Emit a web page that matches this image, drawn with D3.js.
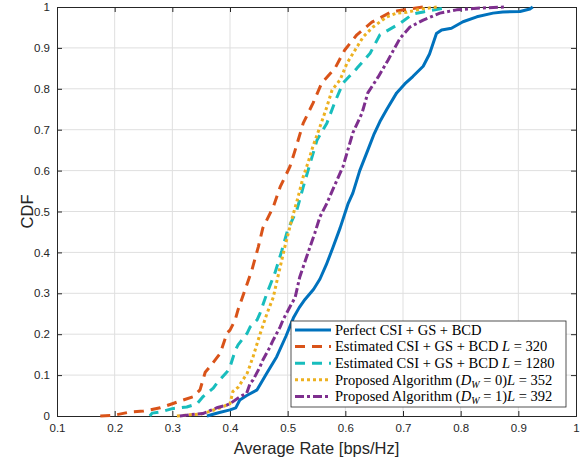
<!DOCTYPE html>
<html>
<head>
<meta charset="utf-8">
<script src="https://cdn.jsdelivr.net/npm/d3@7"></script>
<style>
  body { margin: 0; background: #fff; }
  svg { display: block; }
</style>
</head>
<body>
<div id="chart"></div>
<script>
// ---- data (x = average rate, y = CDF) ----
var perfectCSI = [[0.36,0],[0.38,0.008],[0.40,0.015],[0.41,0.02],[0.417,0.039],[0.429,0.05],[0.447,0.064],[0.464,0.105],[0.481,0.145],[0.497,0.195],[0.51,0.24],[0.52,0.265],[0.53,0.285],[0.545,0.31],[0.556,0.335],[0.567,0.37],[0.578,0.41],[0.591,0.46],[0.605,0.52],[0.613,0.545],[0.625,0.6],[0.639,0.65],[0.65,0.69],[0.66,0.72],[0.672,0.75],[0.689,0.79],[0.703,0.812],[0.717,0.83],[0.735,0.855],[0.746,0.885],[0.752,0.91],[0.758,0.935],[0.767,0.944],[0.784,0.948],[0.804,0.964],[0.828,0.976],[0.856,0.985],[0.873,0.988],[0.903,0.989],[0.92,0.995],[0.925,1.0]];

var estL320 = [[0.175,0],[0.2,0.002],[0.227,0.01],[0.25,0.012],[0.279,0.02],[0.3,0.03],[0.31,0.035],[0.336,0.047],[0.348,0.064],[0.357,0.107],[0.365,0.12],[0.377,0.142],[0.383,0.153],[0.395,0.203],[0.40,0.21],[0.409,0.235],[0.414,0.26],[0.424,0.30],[0.438,0.357],[0.449,0.413],[0.457,0.46],[0.475,0.511],[0.487,0.56],[0.504,0.61],[0.513,0.65],[0.527,0.716],[0.544,0.765],[0.559,0.814],[0.582,0.85],[0.599,0.895],[0.62,0.932],[0.646,0.963],[0.677,0.986],[0.689,0.99],[0.71,0.995],[0.735,1.0]];

var estL1280 = [[0.261,0],[0.265,0.007],[0.28,0.01],[0.3,0.018],[0.325,0.022],[0.343,0.03],[0.353,0.047],[0.371,0.068],[0.377,0.08],[0.395,0.108],[0.40,0.12],[0.409,0.16],[0.414,0.174],[0.43,0.203],[0.435,0.218],[0.447,0.235],[0.452,0.251],[0.464,0.30],[0.478,0.35],[0.49,0.405],[0.50,0.455],[0.516,0.504],[0.527,0.56],[0.539,0.618],[0.551,0.675],[0.568,0.716],[0.582,0.768],[0.596,0.814],[0.62,0.85],[0.643,0.887],[0.66,0.932],[0.695,0.96],[0.717,0.983],[0.735,0.988],[0.769,0.997],[0.775,1.0]];

var propDW0 = [[0.308,0],[0.33,0.003],[0.35,0.005],[0.362,0.01],[0.383,0.02],[0.40,0.03],[0.405,0.06],[0.414,0.07],[0.43,0.105],[0.44,0.145],[0.452,0.2],[0.464,0.25],[0.475,0.29],[0.483,0.34],[0.495,0.413],[0.507,0.48],[0.518,0.535],[0.527,0.585],[0.535,0.618],[0.544,0.66],[0.556,0.707],[0.568,0.756],[0.577,0.797],[0.591,0.822],[0.603,0.863],[0.617,0.895],[0.631,0.927],[0.648,0.951],[0.672,0.976],[0.689,0.985],[0.707,0.987],[0.73,0.995],[0.76,1.0]];

var propDW1 = [[0.313,0],[0.33,0.003],[0.353,0.006],[0.377,0.02],[0.395,0.027],[0.40,0.03],[0.417,0.047],[0.429,0.056],[0.435,0.08],[0.44,0.088],[0.452,0.12],[0.457,0.137],[0.469,0.168],[0.475,0.186],[0.487,0.218],[0.492,0.235],[0.504,0.267],[0.513,0.29],[0.521,0.34],[0.535,0.398],[0.547,0.447],[0.556,0.487],[0.568,0.52],[0.579,0.556],[0.596,0.61],[0.613,0.692],[0.629,0.741],[0.639,0.79],[0.657,0.829],[0.674,0.87],[0.695,0.924],[0.712,0.951],[0.735,0.968],[0.764,0.985],[0.793,0.993],[0.828,0.997],[0.875,1.0]];

var xTicks = [0.1,0.2,0.3,0.4,0.5,0.6,0.7,0.8,0.9,1];
var yTicks = [0,0.1,0.2,0.3,0.4,0.5,0.6,0.7,0.8,0.9,1];

// series styling
var series = [
  {data: perfectCSI, color: "#0072BD", dash: null},
  {data: estL320,    color: "#D95319", dash: "10,7"},
  {data: estL1280,   color: "#18BDBD", dash: "10,7"},
  {data: propDW0,    color: "#EDB120", dash: "3,3"},
  {data: propDW1,    color: "#7E2F8E", dash: "9,3,3,3"}
];

function init() {
  var w = 587, h = 464;
  var left = 57, right = 576, top = 7, bottom = 416;

  var svg = d3.select("#chart").append("svg")
      .attr("width", w).attr("height", h);

  var x = d3.scaleLinear().domain([0.1, 1]).range([left, right]);
  var y = d3.scaleLinear().domain([0, 1]).range([bottom, top]);

  // grid
  svg.append("g").selectAll("line").data(xTicks.slice(1, -1)).enter().append("line")
      .attr("x1", d => x(d)).attr("x2", d => x(d))
      .attr("y1", top).attr("y2", bottom)
      .attr("stroke", "#dfdfdf").attr("stroke-width", 1);
  svg.append("g").selectAll("line").data(yTicks.slice(1, -1)).enter().append("line")
      .attr("y1", d => y(d)).attr("y2", d => y(d))
      .attr("x1", left).attr("x2", right)
      .attr("stroke", "#dfdfdf").attr("stroke-width", 1);

  // axes (ticks inward, matlab look)
  var xAxis = d3.axisBottom(x).tickValues(xTicks).tickSize(-5).tickPadding(8)
      .tickFormat(d3.format("~g"));
  var yAxis = d3.axisLeft(y).tickValues(yTicks).tickSize(-5).tickPadding(7)
      .tickFormat(d3.format("~g"));
  var xTop = d3.axisTop(x).tickValues(xTicks).tickSize(-5).tickFormat("");
  var yRight = d3.axisRight(y).tickValues(yTicks).tickSize(-5).tickFormat("");

  [ [xAxis, "translate(0," + bottom + ")"],
    [yAxis, "translate(" + left + ",0)"],
    [xTop, "translate(0," + top + ")"],
    [yRight, "translate(" + right + ",0)"] ].forEach(function(a) {
    var g = svg.append("g").attr("transform", a[1]).call(a[0]);
    g.select(".domain").attr("stroke", "#262626").attr("stroke-width", 1);
    g.selectAll(".tick line").attr("stroke", "#262626");
    g.selectAll("text").attr("fill", "#262626")
      .style("font-family", "'Liberation Sans', Arial, sans-serif")
      .style("font-size", "11.5px");
  });

  // curves
  var line = d3.line().x(d => x(d[0])).y(d => y(d[1]));
  series.forEach(function(s) {
    svg.append("path")
      .datum(s.data)
      .attr("d", line)
      .attr("fill", "none")
      .attr("stroke", s.color)
      .attr("stroke-width", 3)
      .attr("stroke-linejoin", "round")
      .attr("stroke-dasharray", s.dash);
  });

  // axis labels
  svg.append("text")
    .attr("x", (left + right) / 2).attr("y", 454)
    .attr("text-anchor", "middle")
    .attr("fill", "#262626")
    .style("font-family", "'Liberation Sans', Arial, sans-serif")
    .style("font-size", "16.5px")
    .text("Average Rate [bps/Hz]");
  svg.append("text")
    .attr("transform", "translate(33," + (top + bottom) / 2 + ")rotate(-90)")
    .attr("text-anchor", "middle")
    .attr("fill", "#262626")
    .style("font-family", "'Liberation Sans', Arial, sans-serif")
    .style("font-size", "16.5px")
    .text("CDF");

  // legend
  var lg = svg.append("g").attr("transform", "translate(291,321)");
  lg.append("rect").attr("width", 275).attr("height", 86)
    .attr("fill", "#fff").attr("stroke", "#262626").attr("stroke-width", 0.8);

  var labels = [
    [["Perfect CSI + GS + BCD", ""]],
    [["Estimated CSI + GS + BCD ", ""], ["L", "i"], [" = 320", ""]],
    [["Estimated CSI + GS + BCD ", ""], ["L", "i"], [" = 1280", ""]],
    [["Proposed Algorithm (", ""], ["D", "i"], ["W", "s"], [" = 0)", ""], ["L", "i"], [" = 352", ""]],
    [["Proposed Algorithm (", ""], ["D", "i"], ["W", "s"], [" = 1)", ""], ["L", "i"], [" = 392", ""]]
  ];

  series.forEach(function(s, i) {
    var cy = 9 + i * 16.6;
    lg.append("line")
      .attr("x1", 4).attr("x2", 40).attr("y1", cy).attr("y2", cy)
      .attr("stroke", s.color).attr("stroke-width", 3)
      .attr("stroke-dasharray", s.dash);
    var t = lg.append("text")
      .attr("x", 44).attr("y", cy + 4.8)
      .attr("fill", "#000")
      .style("font-family", "'Liberation Serif', 'DejaVu Serif', serif")
      .style("font-size", "14.5px");
    var sub = false;
    labels[i].forEach(function(p) {
      var ts = t.append("tspan").text(p[0]);
      if (p[1] == "i") ts.style("font-style", "italic");
      if (p[1] == "s") {
        ts.style("font-style", "italic").style("font-size", "10px").attr("dy", 3);
        sub = true;
      } else if (sub) {
        ts.attr("dy", -3);
        sub = false;
      }
    });
  });
}

window.onload = init;
</script>
</body>
</html>
